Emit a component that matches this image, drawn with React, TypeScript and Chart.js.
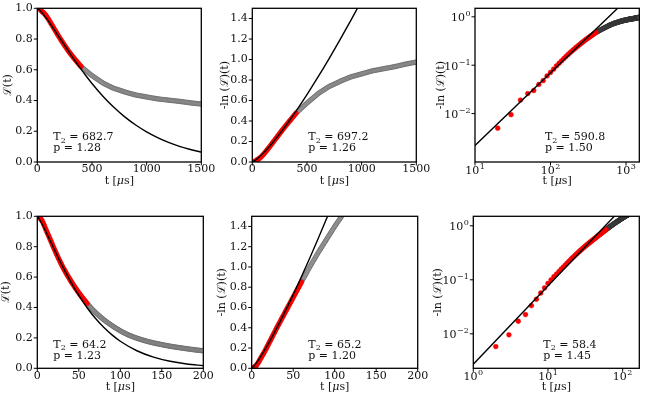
import React, { useEffect, useRef } from "react";
import { Chart, registerables } from "chart.js";

Chart.register(...registerables);

const SERIF = "'DejaVu Serif', 'Liberation Serif', serif";

// ---------------- data ----------------
// sampling steps of the measured curves (µs)
const topStepUs = 10;
const bottomStepUs = 1;
// data points used for the fit (red) lie at t <= window
const topFitWindowUs = 400;
const bottomFitWindowUs = 60;

// measured -ln L(t), top row, t = 0, 10, ..., 1500 µs
const topNegLogL = [
  0, 0.0005, 0.005, 0.0095, 0.019, 0.026, 0.03, 0.04, 0.048, 0.06,
  0.071, 0.083, 0.097, 0.11, 0.123, 0.137, 0.151, 0.165, 0.179, 0.193,
  0.207, 0.221, 0.235, 0.249, 0.263, 0.277, 0.291, 0.305, 0.319, 0.333,
  0.346, 0.359, 0.372, 0.385, 0.398, 0.411, 0.424, 0.437, 0.45, 0.463,
  0.476, 0.486, 0.496, 0.506, 0.516, 0.526, 0.536, 0.546, 0.556, 0.566,
  0.575, 0.584, 0.593, 0.602, 0.611, 0.62, 0.629, 0.638, 0.647, 0.656,
  0.665, 0.673, 0.68, 0.687, 0.694, 0.701, 0.708, 0.715, 0.722, 0.729,
  0.735, 0.74, 0.745, 0.75, 0.755, 0.76, 0.765, 0.77, 0.775, 0.78,
  0.786, 0.79, 0.795, 0.8, 0.804, 0.808, 0.813, 0.817, 0.821, 0.826,
  0.83, 0.833, 0.836, 0.839, 0.842, 0.845, 0.848, 0.851, 0.854, 0.857,
  0.86, 0.863, 0.866, 0.869, 0.872, 0.875, 0.878, 0.881, 0.884, 0.887,
  0.89, 0.892, 0.894, 0.896, 0.898, 0.9, 0.902, 0.904, 0.906, 0.908,
  0.91, 0.912, 0.914, 0.916, 0.918, 0.92, 0.922, 0.924, 0.926, 0.928,
  0.93, 0.932, 0.935, 0.937, 0.94, 0.942, 0.945, 0.947, 0.95, 0.952,
  0.955, 0.957, 0.959, 0.961, 0.963, 0.965, 0.967, 0.969, 0.971, 0.973,
  0.975,
];

// measured -ln L(t), bottom row, t = 0, 1, ..., 200 µs
const bottomNegLogL = [
  0, 0.001, 0.0058, 0.0096, 0.0171, 0.0227, 0.0333, 0.0437, 0.057, 0.0707,
  0.086, 0.1, 0.114, 0.128, 0.142, 0.157, 0.172, 0.187, 0.203, 0.219,
  0.235, 0.251, 0.267, 0.283, 0.299, 0.315, 0.331, 0.347, 0.363, 0.379,
  0.395, 0.411, 0.426, 0.441, 0.456, 0.472, 0.487, 0.502, 0.517, 0.532,
  0.548, 0.563, 0.578, 0.593, 0.608, 0.624, 0.639, 0.654, 0.669, 0.684,
  0.7, 0.715, 0.73, 0.745, 0.76, 0.776, 0.791, 0.806, 0.821, 0.836,
  0.852, 0.867, 0.882, 0.896, 0.911, 0.926, 0.941, 0.956, 0.97, 0.985,
  1.0, 1.014, 1.028, 1.042, 1.056, 1.07, 1.084, 1.098, 1.112, 1.126,
  1.14, 1.153, 1.166, 1.179, 1.192, 1.205, 1.218, 1.231, 1.244, 1.257,
  1.27, 1.283, 1.296, 1.309, 1.322, 1.335, 1.348, 1.361, 1.374, 1.387,
  1.4, 1.412, 1.424, 1.436, 1.448, 1.46, 1.472, 1.484, 1.496, 1.508,
  1.52, 1.53, 1.54, 1.55, 1.56, 1.57, 1.58, 1.59, 1.6, 1.61,
  1.62, 1.629, 1.638, 1.647, 1.656, 1.665, 1.674, 1.683, 1.692, 1.701,
  1.71, 1.718, 1.726, 1.734, 1.742, 1.75, 1.758, 1.766, 1.774, 1.782,
  1.79, 1.797, 1.804, 1.811, 1.818, 1.825, 1.832, 1.839, 1.846, 1.853,
  1.86, 1.867, 1.874, 1.881, 1.888, 1.895, 1.902, 1.909, 1.916, 1.923,
  1.93, 1.936, 1.942, 1.948, 1.954, 1.96, 1.966, 1.972, 1.978, 1.984,
  1.99, 1.996, 2.002, 2.008, 2.014, 2.02, 2.026, 2.032, 2.038, 2.044,
  2.05, 2.056, 2.062, 2.068, 2.074, 2.08, 2.086, 2.092, 2.098, 2.104,
  2.11, 2.115, 2.12, 2.125, 2.13, 2.135, 2.14, 2.145, 2.15, 2.155,
  2.16,
];

// fitted curves
const fitTopLeftT = [0, 25, 50, 75, 100, 150, 200, 250, 300, 350, 400, 450, 500, 600, 700, 800, 900, 1000, 1100, 1200, 1300, 1400, 1500];
const fitTopLeftL = [1, 0.9856, 0.9654, 0.9425, 0.918, 0.866, 0.8124, 0.7585, 0.7053, 0.6536, 0.6038, 0.5563, 0.511, 0.4284, 0.3561, 0.2937, 0.2406, 0.1959, 0.1586, 0.1277, 0.1022, 0.0815, 0.0646];

const fitTopMidT = [0, 25, 50, 100, 150, 200, 250, 300, 350, 400, 500, 600, 700, 800, 900, 1000];
const fitTopMidV = [0, 0.0151, 0.0362, 0.0866, 0.1443, 0.2073, 0.2746, 0.3456, 0.4196, 0.4966, 0.6578, 0.8277, 1.005, 1.189, 1.3795, 1.5754];

const fitTopRightT = [10, 1500];
const fitTopRightV = [0.0022, 4.05];

const fitBotLeftT = [0, 2.5, 5, 10, 15, 20, 25, 30, 35, 40, 45, 50, 60, 70, 80, 90, 100, 120, 140, 160, 180, 200];
const fitBotLeftL = [1, 0.9817, 0.9576, 0.9034, 0.846, 0.788, 0.7309, 0.6755, 0.6224, 0.5718, 0.5241, 0.4794, 0.3985, 0.3288, 0.2696, 0.2198, 0.1782, 0.1155, 0.0736, 0.0462, 0.0286, 0.0175];

const fitBotMidT = [0, 2.5, 5, 10, 20, 30, 40, 50, 60, 70, 80, 90, 100];
const fitBotMidV = [0, 0.02, 0.0459, 0.1054, 0.2422, 0.3939, 0.5564, 0.7273, 0.905, 1.0889, 1.2783, 1.4724, 1.6707];

const fitBotRightT = [1, 167];
const fitBotRightV = [0.00274, 4.59];

// fit parameters shown in the panels
const fitT2 = ["682.7", "697.2", "590.8", "64.2", "65.2", "58.4"];
const fitP = ["1.28", "1.26", "1.50", "1.23", "1.20", "1.45"];

// tick values
const xTicksTopLin = [0, 500, 1000, 1500];
const xTicksBotLin = [0, 50, 100, 150, 200];
const yTicksCoherence = [0, 0.2, 0.4, 0.6, 0.8, 1.0];
const yTicksNegLog = [0, 0.2, 0.4, 0.6, 0.8, 1.0, 1.2, 1.4];
const xTicksTopLog = [10, 100, 1000];
const xTicksBotLog = [1, 10, 100];
const yTicksLog = [0.01, 0.1, 1];

// ---------------- helpers ----------------
type Pt = { x: number; y: number };

const fmt1 = (v: number) => v.toFixed(1);
const fmt0 = (v: number) => String(Math.round(v));
const expOf = (v: number) => {
  const e = Math.round(Math.log10(v));
  return e < 0 ? "\u2212" + String(-e) : String(e);
};

function splitData(vals: number[], step: number, window: number, toY: (v: number) => number, logOnly: boolean) {
  const red: Pt[] = [];
  const gray: Pt[] = [];
  vals.forEach((v, i) => {
    const t = i * step;
    if (logOnly && (t <= 0 || v <= 0)) return;
    const p = { x: t, y: toY(v) };
    if (t <= window) red.push(p);
    else gray.push(p);
  });
  return { red, gray };
}
const zip = (xs: number[], ys: number[]): Pt[] => xs.map((x, i) => ({ x, y: ys[i] }));
const toL = (v: number) => Math.exp(-v);
const ident = (v: number) => v;

interface PanelSpec {
  id: string;
  canvas: { left: number; top: number; width: number; height: number };
  area: { l: number; t: number; r: number; b: number };
  xType: "linear" | "logarithmic";
  yType: "linear" | "logarithmic";
  xMin: number; xMax: number; yMin: number; yMax: number;
  xTicks: number[]; yTicks: number[];
  fmtX: (v: number) => string; fmtY: (v: number) => string;
  yTitle: string;
  yTitleX: number;
  xTitleY: number;
  red: Pt[]; gray: Pt[]; fit: Pt[];
  smoothFit: boolean;
  annot: { x: number; y1: number; y2: number; t2: string; p: string };
}

const topLeftD = splitData(topNegLogL, topStepUs, topFitWindowUs, toL, false);
const topMidD = splitData(topNegLogL, topStepUs, topFitWindowUs, ident, false);
const topRightD = splitData(topNegLogL, topStepUs, topFitWindowUs, ident, true);
const botLeftD = splitData(bottomNegLogL, bottomStepUs, bottomFitWindowUs, toL, false);
const botMidD = splitData(bottomNegLogL, bottomStepUs, bottomFitWindowUs, ident, false);
const botRightD = splitData(bottomNegLogL, bottomStepUs, bottomFitWindowUs, ident, true);

const COLS = [
  { left: 0, width: 228 },
  { left: 212, width: 228 },
  { left: 426, width: 221 },
];
const ROWS = [
  { top: 0, height: 194 },
  { top: 196, height: 198 },
];
const cv = (c: number, r: number) => ({ left: COLS[c].left, width: COLS[c].width, top: ROWS[r].top, height: ROWS[r].height });

const L_TITLE = "\u2112(t)";
const NL_TITLE = "-ln (\u2112)(t)";

const PANELS: PanelSpec[] = [
  {
    id: "tl", canvas: cv(0, 0), area: { l: 37.3, t: 8.3, r: 201.3, b: 162 },
    xType: "linear", yType: "linear", xMin: 0, xMax: 1500, yMin: 0, yMax: 1,
    xTicks: xTicksTopLin, yTicks: yTicksCoherence, fmtX: fmt0, fmtY: fmt1,
    yTitle: L_TITLE, yTitleX: 8, xTitleY: 181.5,
    red: topLeftD.red, gray: topLeftD.gray, fit: zip(fitTopLeftT, fitTopLeftL), smoothFit: true,
    annot: { x: 53.3, y1: 140, y2: 151, t2: fitT2[0], p: fitP[0] },
  },
  {
    id: "tm", canvas: cv(1, 0), area: { l: 252.3, t: 8.3, r: 416.3, b: 162 },
    xType: "linear", yType: "linear", xMin: 0, xMax: 1500, yMin: 0, yMax: 1.5,
    xTicks: xTicksTopLin, yTicks: yTicksNegLog, fmtX: fmt0, fmtY: fmt1,
    yTitle: NL_TITLE, yTitleX: 225, xTitleY: 181.5,
    red: topMidD.red, gray: topMidD.gray, fit: zip(fitTopMidT, fitTopMidV), smoothFit: true,
    annot: { x: 308.3, y1: 140, y2: 151, t2: fitT2[1], p: fitP[1] },
  },
  {
    id: "tr", canvas: cv(2, 0), area: { l: 475, t: 8.3, r: 639.3, b: 162 },
    xType: "logarithmic", yType: "logarithmic", xMin: 10, xMax: 1500, yMin: 0.001, yMax: 1.5,
    xTicks: xTicksTopLog, yTicks: yTicksLog, fmtX: expOf, fmtY: expOf,
    yTitle: NL_TITLE, yTitleX: 441, xTitleY: 181.5,
    red: topRightD.red, gray: topRightD.gray, fit: zip(fitTopRightT, fitTopRightV), smoothFit: false,
    annot: { x: 545, y1: 140, y2: 151, t2: fitT2[2], p: fitP[2] },
  },
  {
    id: "bl", canvas: cv(0, 1), area: { l: 37.3, t: 216.3, r: 203.3, b: 368.3 },
    xType: "linear", yType: "linear", xMin: 0, xMax: 200, yMin: 0, yMax: 1,
    xTicks: xTicksBotLin, yTicks: yTicksCoherence, fmtX: fmt0, fmtY: fmt1,
    yTitle: L_TITLE, yTitleX: 6.5, xTitleY: 387,
    red: botLeftD.red, gray: botLeftD.gray, fit: zip(fitBotLeftT, fitBotLeftL), smoothFit: true,
    annot: { x: 53.3, y1: 347.5, y2: 359, t2: fitT2[3], p: fitP[3] },
  },
  {
    id: "bm", canvas: cv(1, 1), area: { l: 251.7, t: 216.3, r: 417.7, b: 368.3 },
    xType: "linear", yType: "linear", xMin: 0, xMax: 200, yMin: 0, yMax: 1.5,
    xTicks: xTicksBotLin, yTicks: yTicksNegLog, fmtX: fmt0, fmtY: fmt1,
    yTitle: NL_TITLE, yTitleX: 222, xTitleY: 387,
    red: botMidD.red, gray: botMidD.gray, fit: zip(fitBotMidT, fitBotMidV), smoothFit: true,
    annot: { x: 308.3, y1: 347.5, y2: 359, t2: fitT2[4], p: fitP[4] },
  },
  {
    id: "br", canvas: cv(2, 1), area: { l: 473.3, t: 216.3, r: 639.3, b: 368.3 },
    xType: "logarithmic", yType: "logarithmic", xMin: 1, xMax: 167, yMin: 0.0023, yMax: 1.5,
    xTicks: xTicksBotLog, yTicks: yTicksLog, fmtX: expOf, fmtY: expOf,
    yTitle: NL_TITLE, yTitleX: 438, xTitleY: 387,
    red: botRightD.red, gray: botRightD.gray, fit: zip(fitBotRightT, fitBotRightV), smoothFit: false,
    annot: { x: 543.3, y1: 347.5, y2: 359, t2: fitT2[5], p: fitP[5] },
  },
];

const TEXT = "#111";
const F11 = `11px ${SERIF}`;
const F8 = `8px ${SERIF}`;

// draws "10" followed by a raised exponent; anchor: 'center' (x axis) or 'right' (y axis)
function drawPow(ctx: CanvasRenderingContext2D, exp: string, x: number, yMid: number, anchor: "center" | "right") {
  ctx.font = F11;
  const wb = ctx.measureText("10").width;
  ctx.font = F8;
  const we = ctx.measureText(exp).width;
  const total = wb + we + 0.5;
  const x0 = anchor === "center" ? x - total / 2 : x - total;
  ctx.textAlign = "left";
  ctx.textBaseline = "middle";
  ctx.font = F11;
  ctx.fillText("10", x0, yMid + 1.5);
  ctx.font = F8;
  ctx.fillText(exp, x0 + wb + 0.5, yMid - 2.5);
}

function Panel({ spec }: { spec: PanelSpec }) {
  const ref = useRef<HTMLCanvasElement>(null);
  const c = spec.canvas;
  useEffect(() => {
    const canvas = ref.current;
    if (!canvas) return;
    const yAxisW = spec.area.l - c.left;
    const xAxisH = c.top + c.height - spec.area.b;
    const padTop = spec.area.t - c.top;
    const padRight = c.left + c.width - spec.area.r;
    const xLog = spec.xType === "logarithmic";
    const yLog = spec.yType === "logarithmic";

    const framePlugin = {
      id: "frame_" + spec.id,
      afterDraw(chart: any) {
        const ctx: CanvasRenderingContext2D = chart.ctx;
        const a = chart.chartArea;
        const xs = chart.scales.x;
        const ys = chart.scales.y;
        ctx.save();
        // tick marks
        ctx.strokeStyle = "#000";
        ctx.lineWidth = 1;
        ctx.beginPath();
        for (const t of spec.xTicks) {
          const px = xs.getPixelForValue(t);
          ctx.moveTo(px, a.bottom);
          ctx.lineTo(px, a.bottom + 3.5);
        }
        for (const t of spec.yTicks) {
          const py = ys.getPixelForValue(t);
          ctx.moveTo(a.left, py);
          ctx.lineTo(a.left - 3.5, py);
        }
        ctx.stroke();
        // frame
        ctx.lineWidth = 1.3;
        ctx.strokeRect(a.left, a.top, a.right - a.left, a.bottom - a.top);

        ctx.fillStyle = TEXT;
        // log-axis tick labels with raised exponents
        if (xLog) {
          for (const t of spec.xTicks) drawPow(ctx, spec.fmtX(t), xs.getPixelForValue(t), a.bottom + 7.5, "center");
        }
        if (yLog) {
          for (const t of spec.yTicks) drawPow(ctx, spec.fmtY(t), a.left - 4.5, ys.getPixelForValue(t), "right");
        }
        // x title: t [µs] with italic mu
        const fi = `italic 11px ${SERIF}`;
        const parts: [string, string][] = [["t [", F11], ["\u03BC", fi], ["s]", F11]];
        let total = 0;
        const widths = parts.map(([s, font]) => {
          ctx.font = font;
          const w = ctx.measureText(s).width;
          total += w;
          return w;
        });
        let xx = (a.left + a.right) / 2 - total / 2;
        ctx.textBaseline = "middle";
        ctx.textAlign = "left";
        parts.forEach(([s, font], i) => {
          ctx.font = font;
          ctx.fillText(s, xx, spec.xTitleY - c.top);
          xx += widths[i];
        });
        // y title
        ctx.save();
        ctx.font = F11;
        ctx.textAlign = "center";
        ctx.translate(spec.yTitleX - c.left, (a.top + a.bottom) / 2);
        ctx.rotate(-Math.PI / 2);
        ctx.fillText(spec.yTitle, 0, 0);
        ctx.restore();
        // annotation
        const ax = spec.annot.x - c.left;
        const y1 = spec.annot.y1 - c.top;
        const y2 = spec.annot.y2 - c.top;
        ctx.textAlign = "left";
        ctx.textBaseline = "alphabetic";
        ctx.font = F11;
        ctx.fillText("T", ax, y1);
        const wT = ctx.measureText("T").width;
        ctx.font = F8;
        ctx.fillText("2", ax + wT, y1 + 2.5);
        const w2 = ctx.measureText("2").width;
        ctx.font = F11;
        ctx.fillText(" = " + spec.annot.t2, ax + wT + w2, y1);
        ctx.fillText("p = " + spec.annot.p, ax, y2);
        ctx.restore();
      },
    };

    const tickFont = { family: SERIF, size: 11 };
    const noGrid = { display: false, drawTicks: false, tickLength: 0 };
    const chart = new Chart(canvas, {
      type: "scatter",
      data: {
        datasets: [
          {
            label: "fit",
            data: spec.fit,
            showLine: true,
            borderColor: "#000",
            borderWidth: 1.4,
            pointRadius: 0,
            cubicInterpolationMode: spec.smoothFit ? "monotone" : "default",
            tension: 0,
            clip: 0,
          } as any,
          {
            label: "fitted data",
            data: spec.red,
            pointRadius: 2.4,
            pointBackgroundColor: "#ff0000",
            pointBorderColor: "#e60000",
            pointBorderWidth: 0.5,
            clip: 0,
          } as any,
          {
            label: "remaining data",
            data: spec.gray,
            pointRadius: 2.3,
            pointBackgroundColor: xLog ? "#5a5a5a" : "#a6a6a6",
            pointBorderColor: xLog ? "#2a2a2a" : "#4a4a4a",
            pointBorderWidth: xLog ? 0.6 : 0.4,
            clip: 0,
          } as any,
        ],
      },
      options: {
        animation: false,
        responsive: false,
        events: [],
        layout: { padding: { top: padTop, right: padRight, left: 0, bottom: 0 } },
        plugins: { legend: { display: false }, tooltip: { enabled: false } },
        scales: {
          x: {
            type: spec.xType,
            position: "bottom",
            min: spec.xMin,
            max: spec.xMax,
            bounds: "data",
            grid: noGrid,
            border: { display: false },
            ticks: {
              display: !xLog,
              font: tickFont,
              color: TEXT,
              padding: 1,
              maxRotation: 0,
              autoSkip: false,
              callback: (v: any) => spec.fmtX(Number(v)),
            },
            afterBuildTicks: (s: any) => {
              s.ticks = spec.xTicks.map((v) => ({ value: v }));
            },
            afterFit: (s: any) => {
              s.height = xAxisH;
              s.paddingLeft = 0;
              s.paddingRight = 0;
            },
          } as any,
          y: {
            type: spec.yType,
            position: "left",
            min: spec.yMin,
            max: spec.yMax,
            bounds: "data",
            grid: noGrid,
            border: { display: false },
            ticks: {
              display: !yLog,
              font: tickFont,
              color: TEXT,
              padding: 4.5,
              autoSkip: false,
              callback: (v: any) => spec.fmtY(Number(v)),
            },
            afterBuildTicks: (s: any) => {
              s.ticks = spec.yTicks.map((v) => ({ value: v }));
            },
            afterFit: (s: any) => {
              s.width = yAxisW;
              s.paddingTop = 0;
              s.paddingBottom = 0;
            },
          } as any,
        },
      },
      plugins: [framePlugin],
    } as any);
    return () => chart.destroy();
  }, [spec]);

  return (
    <canvas
      ref={ref}
      width={c.width}
      height={c.height}
      style={{ position: "absolute", left: c.left, top: c.top, width: c.width, height: c.height }}
    />
  );
}

export default function App() {
  return (
    <div style={{ position: "absolute", left: 0, top: 0, width: 647, height: 394, background: "#fff", overflow: "hidden" }}>
      {PANELS.map((p) => (
        <Panel key={p.id} spec={p} />
      ))}
    </div>
  );
}
